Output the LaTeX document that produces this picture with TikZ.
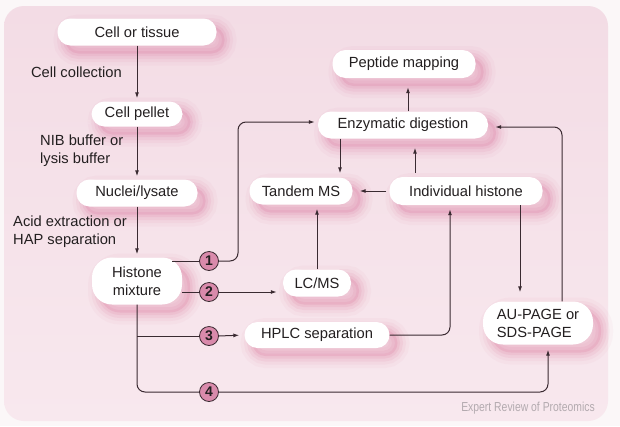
\documentclass[tikz,border=0pt]{standalone}
\usepackage{fontspec}
\setmainfont{Liberation Sans}
\usetikzlibrary{arrows.meta}
\definecolor{outerbg}{HTML}{FBF7F8}
\definecolor{panel}{HTML}{F3DCE5}
\definecolor{panelb}{HTML}{F8E8EE}
\definecolor{shad}{HTML}{D9719A}
\definecolor{linecol}{HTML}{3A2A31}
\definecolor{circfill}{HTML}{D98AAB}
\definecolor{txt}{HTML}{231F20}
\definecolor{credit}{HTML}{B3AAAF}
\newcommand{\nfont}{\fontsize{14.7}{18}\selectfont}
\begin{document}
\begin{tikzpicture}[x=1pt,y=-1pt,
  pinkshadow/.style={
    preaction={draw=shad, line width=24pt, draw opacity=0.05, transform canvas={shift={(8pt,-8pt)}}},
    preaction={draw=shad, line width=17pt, draw opacity=0.07, transform canvas={shift={(8pt,-8pt)}}},
    preaction={draw=shad, line width=11pt, draw opacity=0.10, transform canvas={shift={(8pt,-8pt)}}},
    preaction={draw=shad, line width=5pt, draw opacity=0.13, transform canvas={shift={(8pt,-8pt)}}},
    preaction={fill=shad, fill opacity=0.20, transform canvas={shift={(8pt,-8pt)}}}},
  box/.style={pinkshadow, fill=white, rounded corners=13pt, inner sep=0pt, minimum height=27pt,
    text=txt, font=\nfont, align=center},
  tallbox/.style={box, rounded corners=20pt},
  lbl/.style={text=txt, font=\nfont, inner sep=0pt},
  circ/.style={circle, fill=circfill, draw=linecol, line width=0.8pt, minimum size=19pt,
    inner sep=0pt, text=txt, font=\bfseries\fontsize{14}{14}\selectfont},
  conn/.style={draw=linecol, line width=1pt},
  arr/.style={conn, -{Latex[length=6pt,width=4pt]}}
]
\useasboundingbox (0,0) rectangle (620,426);
\fill[outerbg] (0,0) rectangle (620,426);
\shade[top color=panel, bottom color=panelb, rounded corners=20pt] (4,6) rectangle (608,421);

% nodes
\node[box, minimum width=159pt] (ct) at (137,32) {Cell or tissue};
\node[box, minimum width=91pt, minimum height=25pt] (cp) at (137,114) {Cell pellet};
\node[box, minimum width=121pt] (nl) at (137,193) {Nuclei/lysate};
\node[tallbox, minimum width=90pt, minimum height=47pt] (hm) at (137,281) {Histone\\mixture};
\node[box, minimum width=143pt, minimum height=28pt] (pm) at (404,64) {Peptide mapping};
\node[box, minimum width=170pt] (ed) at (403,125) {Enzymatic digestion};
\node[box, minimum width=103pt] (tms) at (301,191) {Tandem MS};
\node[box, minimum width=153pt, minimum height=28pt] (ih) at (466,191) {Individual histone};
\node[box, minimum width=68pt] (lcms) at (317,283) {LC/MS};
\node[box, minimum width=145pt, minimum height=26pt] (hplc) at (317,335) {HPLC separation};
\node[tallbox, minimum width=110pt, minimum height=43pt, align=left] (au) at (538,323) {AU-PAGE or\\SDS-PAGE};

% labels
\node[lbl, anchor=east] (l1) at (122,72) {Cell collection};
\node[lbl, anchor=west, align=left] (l2) at (40,151) {NIB buffer or\\lysis buffer};
\node[lbl, anchor=west, align=left] (l3) at (13,232) {Acid extraction or\\HAP separation};
\node[text=credit, anchor=east, inner sep=0pt, font=\fontsize{13}{13}\selectfont] (cr) at (595,408) {\scalebox{0.8}[1]{Expert Review of Proteomics}};

% circles
\node[circ] (c1) at (209,261) {1};
\node[circ] (c2) at (209,292) {2};
\node[circ] (c3) at (209,336) {3};
\node[circ] (c4) at (209,392) {4};

% main column
\draw[arr, shorten >=3pt] (ct.south) -- (cp.north);
\draw[arr, shorten >=3pt] (cp.south) -- (nl.north);
\draw[arr, shorten >=3pt] (nl.south) -- (hm.north);

% route 1
\draw[conn] ([xshift=-10pt]hm.east |- c1) -- (c1.west);
\coordinate (r1) at (238,261);
\coordinate (edw) at ([yshift=3pt]ed.west);
\draw[arr, rounded corners=8pt, shorten >=3pt] (c1.east) -- (r1) -- (r1 |- edw) -- (edw);

% route 2
\draw[conn] (hm.east |- c2) -- (c2.west);
\draw[arr, shorten >=6pt] (c2.east) -- (c2 -| lcms.west);

% trunk, routes 3 and 4
\coordinate (au4) at ([xshift=10pt]au.south);
\draw[conn, rounded corners=8pt] (hm.south) -- (hm.south |- c4) -- (c4.west);
\draw[conn] (hm.south |- c3) -- (c3.west);
\draw[arr, shorten >=5pt] (c3.east) -- (hplc.west);
\draw[arr, rounded corners=8pt, shorten >=5pt] (c4.east) -- (c4 -| au4) -- (au4);

% HPLC -> individual histone
\coordinate (ihb) at ([xshift=-16pt]ih.south);
\draw[arr, rounded corners=8pt, shorten >=4pt] (hplc.east) -- (hplc.east -| ihb) -- (ihb);

% LC/MS -> Tandem MS
\draw[arr, shorten >=4pt] (lcms.north) -- (lcms.north |- tms.south);

% Individual histone -> Tandem MS
\draw[arr, shorten <=3pt, shorten >=7pt] (ih.west) -- (tms.east);

% Enzymatic -> Tandem MS
\coordinate (edt) at ([xshift=-63pt]ed.south);
\draw[arr, shorten >=4pt] (edt) -- (edt |- tms.north);

% Individual histone -> Enzymatic
\coordinate (ihe) at ([xshift=-51pt]ih.north);
\draw[arr, shorten <=4pt, shorten >=9pt] (ihe) -- (ihe |- ed.south);

% Enzymatic -> Peptide mapping
\coordinate (edp) at ([xshift=5pt]ed.north);
\draw[arr, shorten >=9pt] (edp) -- (edp |- pm.south);

% Individual histone -> AU-PAGE
\coordinate (iha) at ([xshift=54pt]ih.south);
\draw[arr, shorten >=9pt] (iha) -- (iha |- au.north);

% AU-PAGE -> Enzymatic
\coordinate (aue) at ([xshift=24pt]au.north);
\coordinate (ede) at ([yshift=-2pt]ed.east);
\draw[arr, rounded corners=8pt, shorten >=7pt] (aue) -- (aue |- ede) -- (ede);
\end{tikzpicture}
\end{document}
